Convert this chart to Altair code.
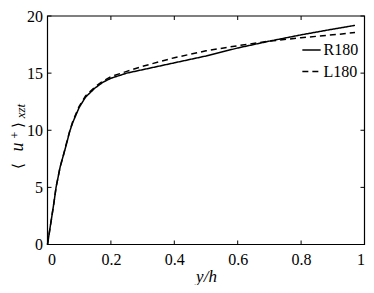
import altair as alt
import pandas as pd

# y/h positions and mean velocity profiles
y_r180 = [0, 0.01, 0.02, 0.027, 0.04, 0.051, 0.06, 0.07, 0.08, 0.10, 0.12, 0.15, 0.175, 0.2, 0.25, 0.3, 0.4, 0.5, 0.6, 0.7, 0.8, 0.9, 0.97]
u_r180 = [0, 1.8, 3.6, 5.0, 6.8, 7.9, 8.8, 9.9, 10.7, 12.0, 12.9, 13.7, 14.2, 14.55, 15.0, 15.3, 15.9, 16.5, 17.2, 17.8, 18.35, 18.85, 19.18]

y_l180 = [0, 0.01, 0.02, 0.027, 0.04, 0.051, 0.06, 0.07, 0.08, 0.10, 0.12, 0.15, 0.175, 0.2, 0.25, 0.3, 0.4, 0.5, 0.6, 0.7, 0.8, 0.9, 0.97]
u_l180 = [0, 1.8, 3.6, 5.0, 6.8, 7.9, 8.9, 9.9, 10.8, 12.1, 13.0, 13.8, 14.3, 14.7, 15.15, 15.6, 16.35, 16.95, 17.4, 17.8, 18.1, 18.35, 18.55]

series = ["R180", "L180"]
xticks = [0, 0.2, 0.4, 0.6, 0.8, 1]
yticks = [0, 5, 10, 15, 20]

# pieces of the y-axis title  <u^+>_xzt
title_parts = ["⟨", "u", "+", "⟩", "xzt"]

W = 317
H = 228.5
FONT = "Liberation Serif, Times New Roman, serif"

df = pd.concat([
    pd.DataFrame({"x": y_r180, "u": u_r180, "s": series[0], "o": 0}),
    pd.DataFrame({"x": y_l180, "u": u_l180, "s": series[1], "o": 1}),
])

xs = alt.Scale(domain=[0, 1], nice=False)
ys = alt.Scale(domain=[0, 20], nice=False)

xaxis = alt.Axis(values=xticks, format="~g", ticks=False, domain=False, grid=False,
                 labelFont=FONT, labelFontSize=16, labelColor="black", labelPadding=7,
                 title="y/h", titleFont=FONT, titleFontSize=17, titleFontStyle="italic",
                 titleFontWeight="normal", titleColor="black", titlePadding=1)
yaxis = alt.Axis(values=yticks, ticks=False, domain=False, grid=False,
                 labelFont=FONT, labelFontSize=16, labelColor="black", labelPadding=5,
                 title=None)

lines = alt.Chart(df).mark_line(color="black", strokeWidth=1.5).encode(
    x=alt.X("x:Q", scale=xs, axis=xaxis, title="y/h"),
    y=alt.Y("u:Q", scale=ys, axis=yaxis, title=None),
    strokeDash=alt.StrokeDash("s:N", scale=alt.Scale(domain=series, range=[[1, 0], [6, 4]]),
                              legend=alt.Legend(title=None, orient="none", legendX=254, legendY=24,
                                                padding=0, symbolType="stroke", symbolSize=335,
                                                symbolStrokeColor="black", symbolStrokeWidth=1.5,
                                                labelFont=FONT, labelFontSize=16, labelColor="black",
                                                rowPadding=3.5, labelOffset=2)),
    order="o:Q",
    detail="s:N",
)

xt = pd.DataFrame({"v": xticks})
yt = pd.DataFrame({"v": yticks})

tick_b = alt.Chart(xt).mark_rule(color="black", strokeWidth=1).encode(
    x=alt.X("v:Q", scale=xs, axis=xaxis, title="y/h"), y=alt.value(H), y2=alt.value(H - 4))
tick_t = alt.Chart(xt).mark_rule(color="black", strokeWidth=1).encode(
    x=alt.X("v:Q", scale=xs, axis=xaxis, title="y/h"), y=alt.value(0), y2=alt.value(4))
tick_l = alt.Chart(yt).mark_rule(color="black", strokeWidth=1).encode(
    y=alt.Y("v:Q", scale=ys, axis=yaxis, title=None), x=alt.value(0), x2=alt.value(4))
tick_r = alt.Chart(yt).mark_rule(color="black", strokeWidth=1).encode(
    y=alt.Y("v:Q", scale=ys, axis=yaxis, title=None), x=alt.value(W), x2=alt.value(W - 4))

frame = alt.Chart(pd.DataFrame({"a": [0]})).mark_rect(fill=None, stroke="black", strokeWidth=1.2).encode(
    x=alt.value(0), x2=alt.value(W), y=alt.value(0), y2=alt.value(H))


def tpart(txt, font, size, style, x, y):
    return alt.Chart(pd.DataFrame({"t": [txt]})).mark_text(
        angle=270, font=font, fontSize=size, fontStyle=style, align="center",
        baseline="alphabetic", color="black"
    ).encode(text="t:N", x=alt.value(x), y=alt.value(y))


BX = -24.5
t1 = tpart(title_parts[0], "DejaVu Serif", 15, "normal", BX, 150)
t2 = tpart(title_parts[1], FONT, 18, "italic", BX, 131)
t3 = tpart(title_parts[2], FONT, 12, "normal", BX - 4.5, 119)
t4 = tpart(title_parts[3], "DejaVu Serif", 15, "normal", BX, 109)
t5 = tpart(title_parts[4], FONT, 13, "italic", BX + 2, 95)

chart = alt.layer(lines, tick_b, tick_t, tick_l, tick_r, frame, t1, t2, t3, t4, t5).properties(
    width=W, height=H,
    autosize=alt.AutoSizeParams(type="none"),
    padding={"left": 39.5, "top": 8, "right": 1, "bottom": 40},
).configure(background="white").configure_view(strokeWidth=0)

chart.save("out.html", embed_options={"renderer": "svg", "actions": False})
